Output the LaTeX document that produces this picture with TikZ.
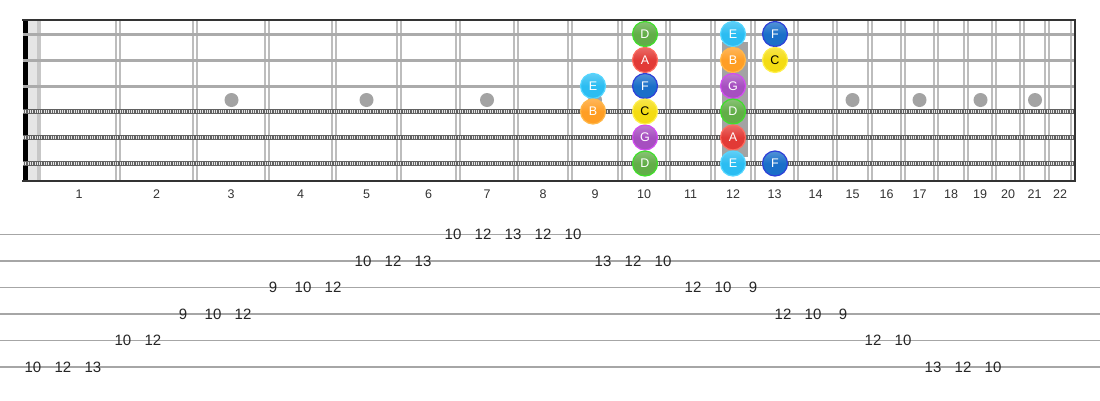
\documentclass[tikz,border=0pt]{standalone}
\usepackage{fontspec}
\setmainfont{Liberation Sans}
\definecolor{nD}{HTML}{62AE48}\definecolor{nDb}{HTML}{3FE02A}
\definecolor{nA}{HTML}{E23A36}\definecolor{nAb}{HTML}{FF6A5E}
\definecolor{nF}{HTML}{1A6FC9}\definecolor{nFb}{HTML}{2E40D8}
\definecolor{nE}{HTML}{2BBDF2}\definecolor{nEb}{HTML}{55D6FF}
\definecolor{nB}{HTML}{FF9E24}\definecolor{nBb}{HTML}{FFB84A}
\definecolor{nC}{HTML}{F4DC12}\definecolor{nCb}{HTML}{FFF04A}
\definecolor{nG}{HTML}{A64FC0}\definecolor{nGb}{HTML}{D24CF0}
\definecolor{fretc}{HTML}{BDBDBD}
\definecolor{strc}{HTML}{ABABAB}
\definecolor{dotc}{HTML}{A3A3A3}
\definecolor{txt}{HTML}{333333}
\begin{document}
\begin{tikzpicture}[x=1pt,y=-1pt,
  fretline/.style={draw=fretc,line width=1.2pt},
  plainstr/.style={draw=strc,line width=3pt},
  woundstr/.style={draw=black!62,line width=4.2pt},
  woundhatch/.style={draw=black!10,line width=3pt,dash pattern=on 1pt off 1.3pt},
  border/.style={draw=black!80,line width=2.2pt},
  fretnum/.style={font=\fontsize{12.5}{12.5}\selectfont,text=txt,inner sep=0pt},
  inlay/.style={circle,fill=dotc,minimum size=14pt,inner sep=0pt},
  note/.style={circle,minimum size=25pt,inner sep=0pt,line width=1.2pt,
    font=\fontsize{12.5}{12.5}\selectfont,text=white},
  tabline/.style={draw=black!35,line width=1.8pt},
  tabnum/.style={font=\fontsize{15}{15}\selectfont,text=black!85,inner sep=0pt}
]
\useasboundingbox (0,0) rectangle (1100,400);
\fill[white] (0,0) rectangle (1100,400);
% nut bands
\fill[black!10] (28,20) rectangle (37,181);
\fill[black!22] (37,20) rectangle (41,181);
\fill[black] (23,20) rectangle (28,181);
% frets
\foreach \x in {118,195,267,334,399,458,516,570,620,668,713,753,796,835,870,903,936,966,994,1022,1047,1073}{
  \draw[fretline] (\x-2,20) -- (\x-2,181);
  \draw[fretline] (\x+2,20) -- (\x+2,181);
}
% fret numbers
\foreach \a/\b [count=\n] in {40/118,118/195,195/267,267/334,334/399,399/458,458/516,516/570,570/620,620/668,668/713,713/753,753/796,796/835,835/870,870/903,903/936,936/966,966/994,994/1022,1022/1047,1047/1073}{
  \node[fretnum] (fn\n) at ({(\a+\b)/2},194) {\n};
}
% inlays
\foreach \x/\n in {231.5/3,366.5/5,487/7,595/9,852.5/15,919.5/17,980.5/19,1035/21}{
  \node[inlay] (in\n) at (\x,100) {};
}
\fill[dotc] (722,42) rectangle (748,157);
% strings
\foreach \y [count=\s] in {34,60,86}{
  \draw[plainstr] (23,\y) -- (1075,\y);
}
\foreach \y in {111.5,137.5,163.5}{
  \draw[woundstr] (23,\y) -- (1075,\y);
  \draw[woundhatch] (23,\y) -- (1075,\y);
}
% borders
\draw[border] (22,20) -- (1076,20);
\draw[border] (22,181) -- (1076,181);
\draw[border] (1075,20) -- (1075,181);
% notes
\foreach \x/\y/\c/\nm in {
  645/34/D/a1, 733/34/E/a2, 775/34/F/a3,
  645/60/A/b1, 733/60/B/b2,
  593/86/E/c1, 645/86/F/c2, 733/86/G/c3,
  593/111.5/B/d1, 733/111.5/D/d3,
  645/137.5/G/e1, 733/137.5/A/e2,
  645/163.5/D/f1, 733/163.5/E/f2, 775/163.5/F/f3}{
  \node[note,top color=n\c!75!white,bottom color=n\c,middle color=n\c,draw=n\c b] (\nm) at (\x,\y) {\c};
}
\foreach \x/\y/\nm in {775/60/b3, 645/111.5/d2}{
  \node[note,top color=nC!75!white,bottom color=nC,middle color=nC,draw=nCb,text=black] (\nm) at (\x,\y) {C};
}
% tab lines
\foreach \y [count=\s] in {234.5,261,287.5,314,340.5,367}{
  \draw[tabline] (0,\y) -- (1100,\y);
}
% tab numbers: line/index/fret
\foreach \ln/\k/\v [count=\i] in {
  6/0/10,6/1/12,6/2/13,
  5/3/10,5/4/12,
  4/5/9,4/6/10,4/7/12,
  3/8/9,3/9/10,3/10/12,
  2/11/10,2/12/12,2/13/13,
  1/14/10,1/15/12,1/16/13,1/17/12,1/18/10,
  2/19/13,2/20/12,2/21/10,
  3/22/12,3/23/10,3/24/9,
  4/25/12,4/26/10,4/27/9,
  5/28/12,5/29/10,
  6/30/13,6/31/12,6/32/10}{
  \node[tabnum] (t\i) at ({33+30*\k},{234.5+26.5*(\ln-1)}) {\v};
}
\end{tikzpicture}
\end{document}
